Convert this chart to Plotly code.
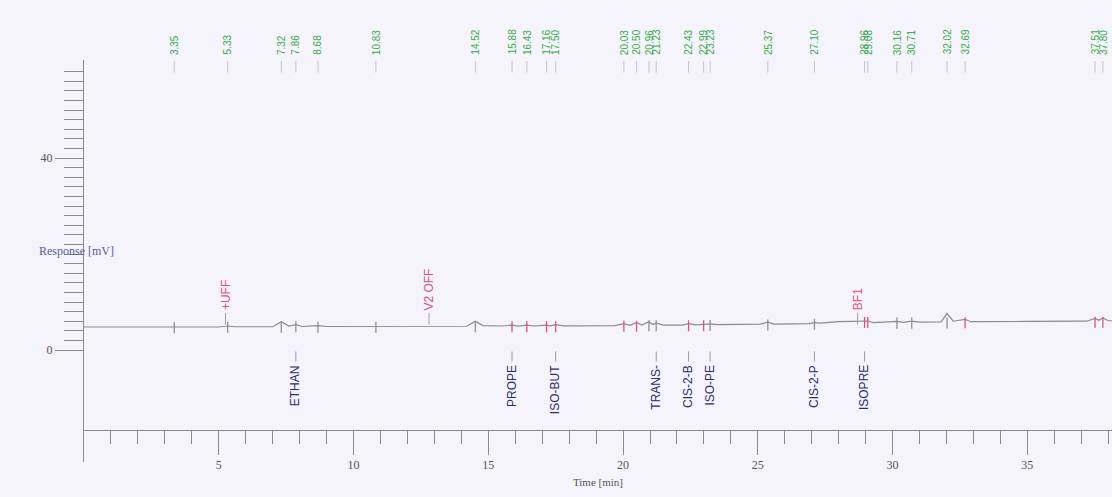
import plotly.graph_objects as go

# Detector trace: retention time (min) vs response (mV)
trace_time = [0.0, 3.0, 3.35, 3.6, 5.0, 5.33, 5.6, 7.0, 7.32, 7.6, 7.86, 8.1, 8.68, 9.0,
              10.6, 10.83, 11.0, 12.8, 14.2, 14.52, 14.8, 15.5, 15.88, 16.1, 16.43, 16.7,
              17.16, 17.3, 17.5, 17.8, 19.7, 20.03, 20.25, 20.5, 20.7, 20.96, 21.1, 21.23,
              21.5, 22.2, 22.43, 22.7, 22.99, 23.1, 23.23, 23.5, 25.1, 25.37, 25.6, 26.9,
              27.1, 27.3, 28.0, 28.5, 28.96, 29.08, 29.3, 30.0, 30.16, 30.4, 30.71, 31.0,
              31.8, 32.02, 32.25, 32.69, 32.9, 35.0, 37.2, 37.51, 37.65, 37.8, 38.0, 38.2]
trace_mv = [4.8, 4.8, 4.95, 4.8, 4.8, 5.0, 4.85, 4.85, 5.9, 5.0, 5.3, 4.9, 5.1, 4.9,
            4.9, 5.05, 4.9, 4.9, 4.95, 6.0, 5.1, 5.0, 5.2, 5.0, 5.2, 5.0,
            5.2, 5.05, 5.3, 5.05, 5.1, 5.5, 5.15, 5.7, 5.2, 5.9, 5.3, 5.6,
            5.2, 5.2, 5.5, 5.25, 5.4, 5.3, 5.45, 5.3, 5.4, 5.8, 5.4, 5.5,
            5.7, 5.6, 5.9, 5.95, 6.1, 6.05, 5.7, 5.85, 5.95, 5.75, 6.0, 5.8,
            5.85, 7.6, 6.0, 6.4, 5.9, 5.95, 6.0, 6.6, 6.2, 6.7, 6.1, 6.1]

# Integrated peak retention times
peak_labels = ["3.35", "5.33", "7.32", "7.86", "8.68", "10.83", "14.52", "15.88", "16.43",
               "17.16", "17.50", "20.03", "20.50", "20.96", "21.23", "22.43", "22.99", "23.23",
               "25.37", "27.10", "28.96", "29.08", "30.16", "30.71", "32.02", "32.69",
               "37.51", "37.80"]
peak_baseline = [4.9, 5.0, 5.0, 5.1, 5.0, 5.0, 5.1, 5.1, 5.1, 5.1, 5.1, 5.2, 5.2, 5.3, 5.3,
                 5.3, 5.3, 5.35, 5.45, 5.6, 6.0, 6.0, 5.85, 5.85, 5.9, 5.95, 6.05, 6.05]
peak_marker_pink = [False, False, False, False, False, False, False, True, True, True, True,
                    True, True, False, False, True, True, False, False, False, True, True,
                    False, False, False, True, True, True]

# Identified compounds
compound_names = ["ETHAN", "PROPE", "ISO-BUT", "TRANS-", "CIS-2-B", "ISO-PE", "CIS-2-P", "ISOPRE"]
compound_times = [7.86, 15.88, 17.50, 21.23, 22.43, 23.23, 27.10, 28.96]

# Timed events
event_names = ["+UFF", "V2 OFF", "BF1"]
event_times = [5.25, 12.8, 28.7]

x_major = [5, 10, 15, 20, 25, 30, 35]
x_minor = list(range(1, 39))
y_major = [0, 10, 20, 30, 40, 50]
y_major_text = ["0", "", "", "", "40", ""]
y_minor = list(range(2, 60, 2))

GREEN = "#36ad48"
PINK = "#e0507e"
NAVY = "#2c2c6e"
GRAY = "#8a8a8a"
SERIF = "Liberation Serif, Times New Roman, serif"
SANS = "Liberation Sans, Arial, sans-serif"
NARROW = "Liberation Sans Narrow, Liberation Sans, Arial, sans-serif"

fig = go.Figure()

fig.add_trace(go.Scatter(x=trace_time, y=trace_mv, mode="lines",
                         line=dict(color="#8c8c8c", width=1.2), hoverinfo="skip"))

# peak start/stop markers on the baseline
for pink in (False, True):
    xs, ys = [], []
    for lab, b, p in zip(peak_labels, peak_baseline, peak_marker_pink):
        if p == pink:
            t = float(lab)
            xs += [t, t, None]
            ys += [b - 1.4, b + 0.9, None]
    fig.add_trace(go.Scatter(x=xs, y=ys, mode="lines",
                             line=dict(color=PINK if pink else "#909090", width=1.3),
                             hoverinfo="skip"))

# short leader marks under the retention time labels
xs, ys = [], []
for lab in peak_labels:
    t = float(lab)
    xs += [t, t, None]
    ys += [60.2, 57.8, None]
fig.add_trace(go.Scatter(x=xs, y=ys, mode="lines",
                         line=dict(color="#c4c4cc", width=1), hoverinfo="skip"))

# leader marks above compound names
xs, ys = [], []
for t in compound_times:
    xs += [t, t, None]
    ys += [-0.3, -2.4, None]
fig.add_trace(go.Scatter(x=xs, y=ys, mode="lines",
                         line=dict(color="#9a9aa6", width=1), hoverinfo="skip"))

# leader marks under event labels
xs, ys = [], []
for t in event_times:
    xs += [t, t, None]
    ys += [5.3, 7.7, None]
fig.add_trace(go.Scatter(x=xs, y=ys, mode="lines",
                         line=dict(color="#a0a0a8", width=1), hoverinfo="skip"))

annotations = []
# retention times sit above the plotting area, so they are placed on the paper scale
for lab in peak_labels:
    annotations.append(dict(x=float(lab), y=1.008, xref="x", yref="paper", text=lab,
                            textangle=-90, showarrow=False, xanchor="center",
                            yanchor="bottom", font=dict(family=SANS, size=10, color=GREEN)))
for name, t in zip(compound_names, compound_times):
    annotations.append(dict(x=t, y=-2.7, xref="x", yref="y", text=name,
                            textangle=-90, showarrow=False, xanchor="center",
                            yanchor="top", font=dict(family=SANS, size=12, color=NAVY)))
for name, t in zip(event_names, event_times):
    annotations.append(dict(x=t, y=7.8, xref="x", yref="y", text=name,
                            textangle=-90, showarrow=False, xanchor="center",
                            yanchor="bottom", font=dict(family=SANS, size=12, color=PINK)))
annotations.append(dict(x=-0.0457, y=20.6, xref="paper", yref="y", text="Response [mV]",
                        showarrow=False, xanchor="left", yanchor="middle",
                        font=dict(family=SERIF, size=12, color="#5a5aa8")))

fig.update_layout(
    width=1112, height=497,
    margin=dict(l=84, r=0, t=60, b=35),
    paper_bgcolor="#f5f3fb", plot_bgcolor="#f5f3fb",
    showlegend=False,
    annotations=annotations,
    xaxis=dict(range=[0, 38.14], anchor="free", position=0.0796,
               showline=True, linecolor=GRAY, linewidth=1,
               showgrid=False, zeroline=False,
               ticks="outside", tickvals=x_major, ticklen=24, tickcolor=GRAY,
               tickfont=dict(family=SERIF, size=12, color="#555555"),
               minor=dict(tickvals=x_minor, ticks="outside", ticklen=13, tickcolor=GRAY),
               title=dict(text="Time [min]", standoff=6,
                          font=dict(family=SERIF, size=11, color="#555555"))),
    yaxis=dict(range=[-23.33, 60.42], showline=True, linecolor=GRAY, linewidth=1,
               showgrid=False, zeroline=False,
               ticks="outside", tickvals=y_major, ticktext=y_major_text, ticklen=28,
               tickcolor=GRAY, tickfont=dict(family=SERIF, size=12, color="#555555"),
               minor=dict(tickvals=y_minor, ticks="outside", ticklen=19, tickcolor=GRAY)),
)

fig.write_html("out.html")
